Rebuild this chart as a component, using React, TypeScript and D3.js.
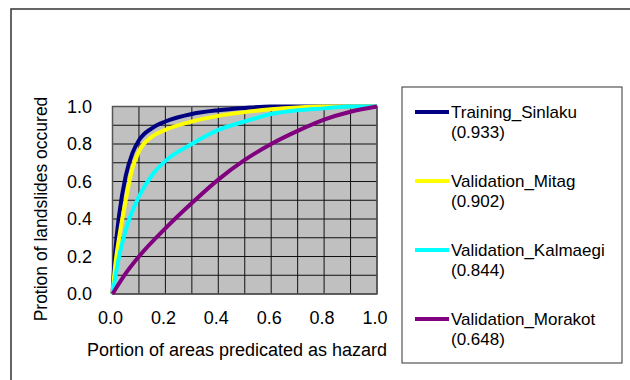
import { useEffect, useRef } from "react";
import * as d3 from "d3";

// ROC curves: x = portion of area, y = portion of landslides
const sinlakuX = [0, 0.01, 0.025, 0.05, 0.075, 0.1, 0.15, 0.2, 0.3, 0.4, 0.5, 0.6, 0.8, 1];
const sinlakuY = [0, 0.22, 0.42, 0.63, 0.75, 0.82, 0.885, 0.92, 0.96, 0.98, 0.992, 1, 1, 1];

const mitagX = [0, 0.01, 0.025, 0.05, 0.075, 0.1, 0.15, 0.2, 0.3, 0.4, 0.5, 0.6, 0.7, 0.8, 1];
const mitagY = [0, 0.15, 0.3, 0.5, 0.67, 0.76, 0.84, 0.875, 0.92, 0.95, 0.97, 0.985, 0.995, 1, 1];

const kalmaegiX = [0, 0.025, 0.05, 0.1, 0.15, 0.2, 0.3, 0.4, 0.5, 0.6, 0.7, 0.8, 0.9, 1];
const kalmaegiY = [0, 0.2, 0.34, 0.52, 0.635, 0.71, 0.8, 0.875, 0.92, 0.96, 0.98, 0.99, 1, 1];

const morakotX = [0, 0.05, 0.1, 0.2, 0.3, 0.4, 0.5, 0.6, 0.7, 0.8, 0.9, 1];
const morakotY = [0, 0.11, 0.2, 0.35, 0.485, 0.61, 0.715, 0.8, 0.87, 0.93, 0.972, 1];

const seriesNames = ["Training_Sinlaku", "Validation_Mitag", "Validation_Kalmaegi", "Validation_Morakot"];
const seriesAuc = ["(0.933)", "(0.902)", "(0.844)", "(0.648)"];
const seriesColors = ["#000080", "#ffff00", "#00ffff", "#800080"];

const ticks = [0, 0.2, 0.4, 0.6, 0.8, 1.0];
const gridTicks = d3.range(0, 11).map((i) => i / 10);

export default function App() {
  const ref = useRef<SVGSVGElement | null>(null);

  useEffect(() => {
    const svg = d3.select(ref.current);
    svg.selectAll("*").remove();
    const font = "'Liberation Sans', Arial, sans-serif";

    const left = 112.5;
    const right = 377;
    const top = 106.5;
    const bottom = 294;

    const x = d3.scaleLinear().domain([0, 1]).range([left, right]);
    const y = d3.scaleLinear().domain([0, 1]).range([bottom, top]);

    // outer frame
    svg
      .append("rect")
      .attr("x", 11)
      .attr("y", 9)
      .attr("width", 700)
      .attr("height", 500)
      .attr("fill", "white")
      .attr("stroke", "#333")
      .attr("stroke-width", 1.5);

    // plot area
    svg
      .append("rect")
      .attr("x", left)
      .attr("y", top)
      .attr("width", right - left)
      .attr("height", bottom - top)
      .attr("fill", "#c0c0c0");

    const grid = svg.append("g").attr("stroke", "#111").attr("stroke-width", 1);
    gridTicks.forEach((t) => {
      grid.append("line").attr("x1", x(t)).attr("x2", x(t)).attr("y1", top).attr("y2", bottom);
      grid.append("line").attr("x1", left).attr("x2", right).attr("y1", y(t)).attr("y2", y(t));
    });

    svg
      .append("rect")
      .attr("x", left)
      .attr("y", top)
      .attr("width", right - left)
      .attr("height", bottom - top)
      .attr("fill", "none")
      .attr("stroke", "#555")
      .attr("stroke-width", 1.5);

    // axes labels
    svg
      .append("g")
      .selectAll("text")
      .data(ticks)
      .enter()
      .append("text")
      .attr("x", 92)
      .attr("y", (d) => y(d))
      .attr("dy", "0.35em")
      .attr("text-anchor", "end")
      .attr("font-family", font)
      .attr("font-size", 18)
      .text((d) => d.toFixed(1));

    svg
      .append("g")
      .selectAll("text")
      .data(ticks)
      .enter()
      .append("text")
      .attr("x", (d) => x(d) - 2)
      .attr("y", 324)
      .attr("text-anchor", "middle")
      .attr("font-family", font)
      .attr("font-size", 18)
      .text((d) => d.toFixed(1));

    svg
      .append("text")
      .attr("x", 237)
      .attr("y", 356)
      .attr("text-anchor", "middle")
      .attr("font-family", font)
      .attr("font-size", 18)
      .text("Portion of areas predicated as hazard");

    svg
      .append("text")
      .attr("transform", "translate(47,209) rotate(-90)")
      .attr("text-anchor", "middle")
      .attr("font-family", font)
      .attr("font-size", 17.5)
      .text("Protion of landslides occured");

    // curves
    const data = [
      d3.zip(sinlakuX, sinlakuY),
      d3.zip(mitagX, mitagY),
      d3.zip(kalmaegiX, kalmaegiY),
      d3.zip(morakotX, morakotY),
    ];
    const line = d3
      .line<number[]>()
      .x((d) => x(d[0]))
      .y((d) => y(d[1]))
      .curve(d3.curveMonotoneX);

    data.forEach((pts, i) => {
      svg
        .append("path")
        .attr("d", line(pts))
        .attr("fill", "none")
        .attr("stroke", seriesColors[i])
        .attr("stroke-width", 4)
        .attr("stroke-linejoin", "round");
    });

    // legend
    svg
      .append("rect")
      .attr("x", 402)
      .attr("y", 87)
      .attr("width", 220)
      .attr("height", 276)
      .attr("fill", "white")
      .attr("stroke", "#333")
      .attr("stroke-width", 1);

    const item = svg
      .append("g")
      .selectAll("g")
      .data(seriesNames)
      .enter()
      .append("g")
      .attr("transform", (_d, i) => `translate(0,${112 + i * 69})`);

    item
      .append("line")
      .attr("x1", 415)
      .attr("x2", 449)
      .attr("stroke", (_d, i) => seriesColors[i])
      .attr("stroke-width", 4);

    item
      .append("text")
      .attr("x", 451)
      .attr("y", 6)
      .attr("font-family", font)
      .attr("font-size", 17)
      .text((d) => d);

    item
      .append("text")
      .attr("x", 451)
      .attr("y", 26)
      .attr("font-family", font)
      .attr("font-size", 17)
      .text((_d, i) => seriesAuc[i]);
  }, []);

  return (
    <svg
      ref={ref}
      width={630}
      height={380}
      style={{ position: "absolute", left: 0, top: 0 }}
    />
  );
}
